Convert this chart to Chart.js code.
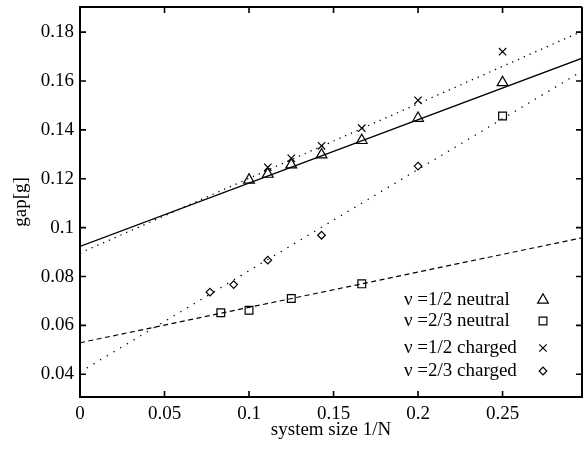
<!DOCTYPE html>
<html>
<head>
<meta charset="utf-8">
<script src="https://cdn.jsdelivr.net/npm/chart.js@4/dist/chart.umd.min.js"></script>
<style>
html, body { margin: 0; padding: 0; background: #fff; }
</style>
</head>
<body>
<canvas id="myChart" width="585" height="450"></canvas>
<script>
// tick values and labels
var xTicks = [0, 0.05, 0.1, 0.15, 0.2, 0.25];
var xLabels = ['0', '0.05', '0.1', '0.15', '0.2', '0.25'];
var yTicks = [0.04, 0.06, 0.08, 0.1, 0.12, 0.14, 0.16, 0.18];
var yLabels = ['0.04', '0.06', '0.08', '0.1', '0.12', '0.14', '0.16', '0.18'];

// measured gaps, x = 1/N
var halfNeutralX = [0.1, 0.1111, 0.125, 0.1429, 0.1667, 0.2, 0.25];
var halfNeutralY = [0.1195, 0.1219, 0.1257, 0.1298, 0.1357, 0.1448, 0.1594];
var twoThirdNeutralX = [0.0833, 0.1, 0.125, 0.1667, 0.25];
var twoThirdNeutralY = [0.0652, 0.0662, 0.0710, 0.0770, 0.1457];
var halfChargedX = [0.1111, 0.125, 0.1429, 0.1667, 0.2, 0.25];
var halfChargedY = [0.1247, 0.1284, 0.1335, 0.1407, 0.1521, 0.1720];
var twoThirdChargedX = [0.0769, 0.0909, 0.1111, 0.1429, 0.2];
var twoThirdChargedY = [0.0736, 0.0767, 0.0867, 0.0969, 0.1252];

// linear fits, value at x = 0 and x = 0.3
var fitX = [0, 0.3];
var fitHalfNeutral = [0.0923, 0.1701];
var fitHalfCharged = [0.0896, 0.1813];
var fitTwoThirdNeutral = [0.0529, 0.0963];
var fitTwoThirdCharged = [0.0409, 0.1653];

var labels = ['\u03bd =1/2 neutral', '\u03bd =2/3 neutral', '\u03bd =1/2 charged', '\u03bd =2/3 charged'];

var serif = 'Liberation Serif';

function pts(xs, ys) {
  var out = [];
  for (var i = 0; i < xs.length; i++) out.push({x: xs[i], y: ys[i]});
  return out;
}

function markers(label, xs, ys, style, r) {
  return {
    label: label,
    data: pts(xs, ys),
    showLine: false,
    pointStyle: style,
    pointRadius: r,
    borderColor: '#000',
    backgroundColor: 'rgba(0,0,0,0)',
    pointBorderWidth: 1.2,
    isMarker: true
  };
}

function fit(ys, dash, w) {
  return {
    label: '',
    data: pts(fitX, ys),
    showLine: true,
    pointRadius: 0,
    borderColor: '#000',
    borderWidth: w,
    borderDash: dash,
    fill: false
  };
}

// no extra room for edge labels, keep the box where we put it
function noPad(s) {
  s.paddingTop = 0; s.paddingBottom = 0;
  s.paddingLeft = 0; s.paddingRight = 0;
}

var frame = {
  id: 'frame',
  afterDraw: function (chart) {
    var ctx = chart.ctx, a = chart.chartArea;
    var xs = chart.scales.x, ys = chart.scales.y;
    ctx.save();
    ctx.beginPath();
    ctx.rect(a.left, a.top, a.right - a.left, a.bottom - a.top);
    ctx.clip();
    ctx.strokeStyle = '#000';
    ctx.lineWidth = 1.6;
    ctx.beginPath();
    xTicks.forEach(function (v) {
      var px = xs.getPixelForValue(v);
      ctx.moveTo(px, a.bottom); ctx.lineTo(px, a.bottom - 6);
      ctx.moveTo(px, a.top); ctx.lineTo(px, a.top + 6);
    });
    yTicks.forEach(function (v) {
      var py = ys.getPixelForValue(v);
      ctx.moveTo(a.left, py); ctx.lineTo(a.left + 6, py);
      ctx.moveTo(a.right, py); ctx.lineTo(a.right - 6, py);
    });
    ctx.stroke();
    ctx.restore();

    ctx.save();
    ctx.strokeStyle = '#000';
    ctx.lineWidth = 2;
    ctx.beginPath();
    ctx.moveTo(a.left, a.top); ctx.lineTo(a.right, a.top);
    ctx.moveTo(a.right, a.top); ctx.lineTo(a.right, a.bottom);
    ctx.stroke();

    // legend: text on the left, symbol on the right
    var rows = [a.bottom - 97, a.bottom - 76, a.bottom - 49, a.bottom - 26];
    var tx = a.right - 178, mx = a.right - 39;
    var marks = chart.data.datasets.filter(function (d) { return d.isMarker; });
    ctx.font = '19px "' + serif + '"';
    ctx.textBaseline = 'middle';
    ctx.textAlign = 'left';
    marks.forEach(function (d, i) {
      ctx.fillStyle = '#000';
      ctx.fillText(d.label, tx, rows[i]);
      ctx.fillStyle = 'rgba(0,0,0,0)';
      ctx.lineWidth = 1.2;
      Chart.helpers.drawPoint(ctx, {pointStyle: d.pointStyle, radius: d.pointRadius, rotation: 0, borderWidth: 1.2}, mx, rows[i]);
    });
    ctx.restore();
  }
};

var ctx = document.getElementById('myChart');
var myChart = new Chart(ctx, {
  type: 'scatter',
  data: {
    datasets: [
      fit(fitHalfNeutral, [], 1.3),
      fit(fitHalfCharged, [1.3, 5], 1.3),
      fit(fitTwoThirdNeutral, [5, 3.5], 1.2),
      fit(fitTwoThirdCharged, [1.3, 6.5], 1.3),
      markers(labels[0], halfNeutralX, halfNeutralY, 'triangle', 6.2),
      markers(labels[1], twoThirdNeutralX, twoThirdNeutralY, 'rect', 5.5),
      markers(labels[2], halfChargedX, halfChargedY, 'crossRot', 5.2),
      markers(labels[3], twoThirdChargedX, twoThirdChargedY, 'rectRot', 3.8)
    ]
  },
  options: {
    responsive: false,
    animation: false,
    layout: { autoPadding: false, padding: { top: 7, right: 3, left: 0, bottom: 0 } },
    plugins: {
      legend: { display: false },
      tooltip: { enabled: false }
    },
    scales: {
      x: {
        type: 'linear',
        min: 0,
        max: 0.297,
        afterBuildTicks: function (s) { s.ticks = xTicks.map(function (v) { return {value: v}; }); },
        afterFit: function (s) { s.height = 53; noPad(s); },
        grid: { display: false, drawTicks: false },
        border: { display: true, color: '#000', width: 2 },
        ticks: {
          padding: 6,
          color: '#000',
          font: { family: serif, size: 19 },
          maxRotation: 0,
          callback: function (v, i) { return xLabels[i]; }
        },
        title: {
          display: true,
          text: 'system size 1/N',
          color: '#000',
          font: { family: serif, size: 19 },
          padding: { top: 0, bottom: 9 }
        }
      },
      y: {
        type: 'linear',
        min: 0.0307,
        max: 0.1903,
        afterBuildTicks: function (s) { s.ticks = yTicks.map(function (v) { return {value: v}; }); },
        afterFit: function (s) { s.width = 80; noPad(s); },
        grid: { display: false, drawTicks: false },
        border: { display: true, color: '#000', width: 2 },
        ticks: {
          padding: 6,
          color: '#000',
          font: { family: serif, size: 19 },
          callback: function (v, i) { return yLabels[i]; }
        },
        title: {
          display: true,
          text: 'gap[g]',
          color: '#000',
          font: { family: serif, size: 19 },
          padding: { top: 10, bottom: 0 }
        }
      }
    }
  },
  plugins: [frame]
});
</script>
</body>
</html>
